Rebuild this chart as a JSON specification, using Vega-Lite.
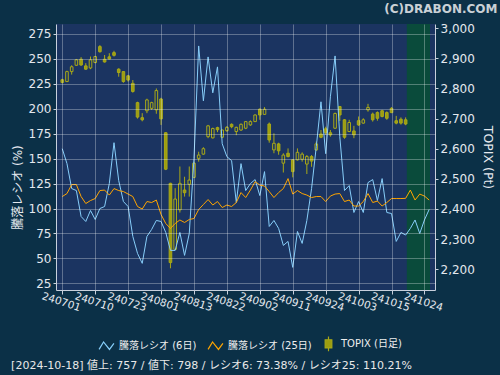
{
  "$schema": "https://vega.github.io/schema/vega-lite/v6.json",
  "width": 379,
  "height": 266,
  "autosize": {"type": "none"},
  "padding": {"left": 56, "top": 24, "right": 65, "bottom": 85},
  "background": "#0b3047",
  "config": {
    "font": "DejaVu Sans, Noto Sans CJK JP",
    "view": {"fill": "#1b3461", "stroke": null},
    "axis": {
      "labelColor": "#e4e8ee",
      "titleColor": "#e4e8ee",
      "domainColor": "#c8d0dc",
      "tickColor": "#c8d0dc",
      "gridColor": "#ffffff",
      "gridOpacity": 0.3,
      "labelFontSize": 11,
      "titleFontSize": 12,
      "titleFontWeight": "normal",
      "labelFont": "DejaVu Sans",
      "titleFont": "DejaVu Sans, Noto Sans CJK JP"
    }
  },
  "title": {
    "text": "[2024-10-18] 値上: 757 / 値下: 798 / レシオ6: 73.38% / レシオ25: 110.21%",
    "orient": "bottom",
    "anchor": "start",
    "frame": "bounds",
    "fontSize": 11,
    "fontWeight": "normal",
    "font": "DejaVu Sans, Noto Sans CJK JP",
    "color": "#e8e8e8",
    "offset": 6,
    "dx": 0
  },
  "datasets": {
    "topix": [
      {"i":0,"o":2829,"h":2832,"l":2817,"c":2820},
      {"i":1,"o":2823,"h":2859,"l":2821,"c":2856},
      {"i":2,"o":2856,"h":2877,"l":2846,"c":2872},
      {"i":3,"o":2877,"h":2898,"l":2875,"c":2895},
      {"i":4,"o":2897,"h":2904,"l":2875,"c":2878},
      {"i":5,"o":2875,"h":2884,"l":2862,"c":2864},
      {"i":6,"o":2868,"h":2906,"l":2864,"c":2895},
      {"i":7,"o":2886,"h":2908,"l":2884,"c":2906},
      {"i":8,"o":2939,"h":2944,"l":2919,"c":2922},
      {"i":9,"o":2897,"h":2911,"l":2886,"c":2888},
      {"i":10,"o":2905,"h":2917,"l":2897,"c":2898},
      {"i":11,"o":2919,"h":2925,"l":2906,"c":2910},
      {"i":12,"o":2864,"h":2867,"l":2839,"c":2853},
      {"i":13,"o":2856,"h":2858,"l":2819,"c":2823},
      {"i":14,"o":2842,"h":2845,"l":2823,"c":2828},
      {"i":15,"o":2817,"h":2828,"l":2786,"c":2790},
      {"i":16,"o":2753,"h":2756,"l":2700,"c":2705},
      {"i":17,"o":2703,"h":2718,"l":2691,"c":2696},
      {"i":18,"o":2726,"h":2766,"l":2718,"c":2762},
      {"i":19,"o":2734,"h":2756,"l":2729,"c":2753},
      {"i":20,"o":2729,"h":2800,"l":2716,"c":2793},
      {"i":21,"o":2765,"h":2769,"l":2679,"c":2699},
      {"i":22,"o":2653,"h":2655,"l":2529,"c":2532},
      {"i":23,"o":2485,"h":2487,"l":2203,"c":2222},
      {"i":24,"o":2266,"h":2469,"l":2264,"c":2433},
      {"i":25,"o":2397,"h":2541,"l":2388,"c":2485},
      {"i":26,"o":2463,"h":2507,"l":2441,"c":2454},
      {"i":27,"o":2482,"h":2541,"l":2441,"c":2496},
      {"i":28,"o":2505,"h":2555,"l":2504,"c":2552},
      {"i":29,"o":2568,"h":2590,"l":2557,"c":2579},
      {"i":30,"o":2582,"h":2605,"l":2580,"c":2600},
      {"i":31,"o":2640,"h":2679,"l":2635,"c":2676},
      {"i":32,"o":2636,"h":2670,"l":2634,"c":2667},
      {"i":33,"o":2670,"h":2673,"l":2655,"c":2663},
      {"i":34,"o":2638,"h":2664,"l":2635,"c":2662},
      {"i":35,"o":2660,"h":2675,"l":2656,"c":2671},
      {"i":36,"o":2681,"h":2684,"l":2668,"c":2673},
      {"i":37,"o":2657,"h":2673,"l":2645,"c":2671},
      {"i":38,"o":2662,"h":2684,"l":2659,"c":2681},
      {"i":39,"o":2668,"h":2692,"l":2665,"c":2690},
      {"i":40,"o":2679,"h":2694,"l":2676,"c":2690},
      {"i":41,"o":2690,"h":2714,"l":2689,"c":2712},
      {"i":42,"o":2731,"h":2734,"l":2696,"c":2712},
      {"i":43,"o":2714,"h":2738,"l":2712,"c":2731},
      {"i":44,"o":2682,"h":2687,"l":2620,"c":2629},
      {"i":45,"o":2596,"h":2651,"l":2585,"c":2618},
      {"i":46,"o":2616,"h":2620,"l":2580,"c":2593},
      {"i":47,"o":2552,"h":2585,"l":2521,"c":2579},
      {"i":48,"o":2585,"h":2601,"l":2571,"c":2574},
      {"i":49,"o":2563,"h":2565,"l":2505,"c":2524},
      {"i":50,"o":2563,"h":2601,"l":2561,"c":2588},
      {"i":51,"o":2565,"h":2588,"l":2557,"c":2582},
      {"i":52,"o":2549,"h":2579,"l":2516,"c":2574},
      {"i":53,"o":2574,"h":2579,"l":2540,"c":2559},
      {"i":54,"o":2596,"h":2624,"l":2593,"c":2616},
      {"i":55,"o":2649,"h":2662,"l":2635,"c":2638},
      {"i":56,"o":2666,"h":2673,"l":2646,"c":2653},
      {"i":57,"o":2653,"h":2662,"l":2640,"c":2646},
      {"i":58,"o":2668,"h":2720,"l":2666,"c":2717},
      {"i":59,"o":2740,"h":2742,"l":2692,"c":2712},
      {"i":60,"o":2696,"h":2698,"l":2633,"c":2638},
      {"i":61,"o":2657,"h":2696,"l":2655,"c":2687},
      {"i":62,"o":2659,"h":2676,"l":2635,"c":2646},
      {"i":63,"o":2693,"h":2707,"l":2676,"c":2679},
      {"i":64,"o":2685,"h":2701,"l":2683,"c":2696},
      {"i":65,"o":2729,"h":2749,"l":2723,"c":2737},
      {"i":66,"o":2715,"h":2720,"l":2690,"c":2696},
      {"i":67,"o":2720,"h":2724,"l":2693,"c":2701},
      {"i":68,"o":2726,"h":2729,"l":2704,"c":2707},
      {"i":69,"o":2720,"h":2724,"l":2696,"c":2701},
      {"i":70,"o":2734,"h":2738,"l":2718,"c":2720},
      {"i":71,"o":2693,"h":2709,"l":2681,"c":2685},
      {"i":72,"o":2698,"h":2704,"l":2680,"c":2685},
      {"i":73,"o":2696,"h":2704,"l":2678,"c":2682}
    ],
    "ratio": [
      {"i":0,"r6":160,"r25":112},
      {"i":1,"r6":145,"r25":115},
      {"i":2,"r6":120,"r25":124},
      {"i":3,"r6":118,"r25":124},
      {"i":4,"r6":92,"r25":112},
      {"i":5,"r6":87,"r25":105},
      {"i":6,"r6":98,"r25":108},
      {"i":7,"r6":89,"r25":110},
      {"i":8,"r6":100,"r25":118},
      {"i":9,"r6":102,"r25":118.5},
      {"i":10,"r6":125,"r25":113.5},
      {"i":11,"r6":166,"r25":120},
      {"i":12,"r6":128,"r25":118},
      {"i":13,"r6":107,"r25":117},
      {"i":14,"r6":102,"r25":114.5},
      {"i":15,"r6":72,"r25":112},
      {"i":16,"r6":55,"r25":102},
      {"i":17,"r6":45,"r25":99.5},
      {"i":18,"r6":72,"r25":107},
      {"i":19,"r6":79,"r25":106},
      {"i":20,"r6":88,"r25":108.5},
      {"i":21,"r6":87,"r25":94},
      {"i":22,"r6":76,"r25":85},
      {"i":23,"r6":58,"r25":80},
      {"i":24,"r6":58,"r25":85},
      {"i":25,"r6":76,"r25":88.5},
      {"i":26,"r6":53,"r25":86},
      {"i":27,"r6":75,"r25":89},
      {"i":28,"r6":150,"r25":90},
      {"i":29,"r6":263,"r25":99},
      {"i":30,"r6":208,"r25":104},
      {"i":31,"r6":252,"r25":109},
      {"i":32,"r6":216,"r25":103.5},
      {"i":33,"r6":242,"r25":107},
      {"i":34,"r6":165,"r25":101},
      {"i":35,"r6":152,"r25":103.5},
      {"i":36,"r6":148,"r25":102},
      {"i":37,"r6":106,"r25":106},
      {"i":38,"r6":145,"r25":116},
      {"i":39,"r6":118,"r25":111},
      {"i":40,"r6":125,"r25":118.5},
      {"i":41,"r6":129,"r25":127},
      {"i":42,"r6":113,"r25":123.5},
      {"i":43,"r6":137,"r25":122.5},
      {"i":44,"r6":82,"r25":117},
      {"i":45,"r6":88,"r25":111},
      {"i":46,"r6":80,"r25":116},
      {"i":47,"r6":63,"r25":120},
      {"i":48,"r6":67,"r25":130},
      {"i":49,"r6":41,"r25":114.5},
      {"i":50,"r6":77,"r25":118},
      {"i":51,"r6":65,"r25":115},
      {"i":52,"r6":88,"r25":113.5},
      {"i":53,"r6":120,"r25":111},
      {"i":54,"r6":162,"r25":112},
      {"i":55,"r6":207,"r25":112},
      {"i":56,"r6":155,"r25":107},
      {"i":57,"r6":212,"r25":112.5},
      {"i":58,"r6":253,"r25":114.5},
      {"i":59,"r6":172,"r25":115},
      {"i":60,"r6":118,"r25":107},
      {"i":61,"r6":123,"r25":108.5},
      {"i":62,"r6":96,"r25":102.5},
      {"i":63,"r6":107,"r25":102.5},
      {"i":64,"r6":96,"r25":107},
      {"i":65,"r6":126,"r25":115},
      {"i":66,"r6":129,"r25":106},
      {"i":67,"r6":108,"r25":107.5},
      {"i":68,"r6":130,"r25":102.5},
      {"i":69,"r6":96,"r25":106},
      {"i":70,"r6":95,"r25":110},
      {"i":71,"r6":67,"r25":110},
      {"i":72,"r6":76,"r25":110},
      {"i":73,"r6":73.4,"r25":110.2},
      {"i":74,"r6":80,"r25":118.5},
      {"i":75,"r6":88.5,"r25":108.5},
      {"i":76,"r6":75,"r25":114.5},
      {"i":77,"r6":88.5,"r25":112.5},
      {"i":78,"r6":99,"r25":108.5}
    ],
    "future": [
      {"start": 73.25, "end": 78.18}
    ]
  },
  "resolve": {"scale": {"y": "independent"}, "axis": {"x": "independent"}},
  "layer": [
    {
      "data": {"name": "future"},
      "mark": {"type": "rect", "fill": "#0a4b3b"},
      "encoding": {
        "x": {
          "field": "start",
          "type": "quantitative",
          "scale": {"domain": [-0.27, 78.18], "nice": false, "zero": false},
          "axis": {
            "orient": "top",
            "title": "(C)DRABON.COM",
            "labels": false,
            "ticks": false,
            "domain": false,
            "grid": false,
            "titleX": 441,
            "titleY": -16,
            "titleAlign": "right",
            "titleBaseline": "middle",
            "titleFontSize": 12,
            "titleFontWeight": "bold",
            "titleColor": "#c9d0d6",
            "titleFont": "DejaVu Sans"
          }
        },
        "x2": {"field": "end"}
      }
    },
    {
      "data": {"name": "topix"},
      "encoding": {
        "x": {
          "field": "i",
          "type": "quantitative",
          "scale": {"domain": [-0.27, 78.18], "nice": false, "zero": false},
          "axis": {
            "orient": "bottom",
            "values": [0, 7, 14, 21, 28, 35, 42, 49, 56, 63, 70, 77],
            "labelExpr": "['240701','240710','240723','240801','240813','240822','240902','240911','240924','241003','241015','241024'][round(datum.value / 7)]",
            "grid": true,
            "zindex": 1,
            "title": null,
            "labelAngle": 18,
            "labelAlign": "center",
            "labelBaseline": "top",
            "labelFontSize": 10.5,
            "labelPadding": 3,
            "tickSize": 4,
            "labelOverlap": false,
            "labelBound": false,
            "labelFlush": false
          }
        }
      },
      "layer": [
        {
          "mark": {"type": "rule", "strokeWidth": 1},
          "encoding": {
            "y": {
              "field": "l",
              "type": "quantitative",
              "scale": {"domain": [2131, 3014], "nice": false, "zero": false},
              "axis": {
                "orient": "right",
                "values": [2200, 2300, 2400, 2500, 2600, 2700, 2800, 2900, 3000],
                "labelExpr": "format(datum.value, ',')",
                "grid": false,
                "tickSize": 3,
                "labelPadding": 2,
                "labelFontSize": 12,
                "title": "TOPIX (Pt)",
                "titleFontSize": 12.5,
                "titlePadding": 6
              }
            },
            "y2": {"field": "h"},
            "stroke": {"datum": "TOPIX (日足)"}
          }
        },
        {
          "mark": {"type": "bar", "width": 2.6, "strokeWidth": 1},
          "encoding": {
            "y": {
              "field": "o",
              "type": "quantitative",
              "scale": {"domain": [2131, 3014], "nice": false, "zero": false},
              "axis": {
                "orient": "right",
                "values": [2200, 2300, 2400, 2500, 2600, 2700, 2800, 2900, 3000],
                "labelExpr": "format(datum.value, ',')",
                "grid": false,
                "tickSize": 3,
                "labelPadding": 2,
                "labelFontSize": 12,
                "title": "TOPIX (Pt)",
                "titleFontSize": 12.5,
                "titlePadding": 6
              }
            },
            "y2": {"field": "c"},
            "stroke": {"datum": "TOPIX (日足)"},
            "fill": {
              "condition": {"test": "datum.c > datum.o", "value": "#1b3461"},
              "value": "#9e9e10"
            }
          }
        }
      ]
    },
    {
      "data": {"name": "ratio"},
      "encoding": {
        "x": {
          "field": "i",
          "type": "quantitative",
          "scale": {"domain": [-0.27, 78.18], "nice": false, "zero": false},
          "axis": null
        }
      },
      "layer": [
        {
          "mark": {"type": "line", "strokeWidth": 1},
          "encoding": {
            "y": {
              "field": "r6",
              "type": "quantitative",
              "scale": {"domain": [18.3, 285], "nice": false, "zero": false},
              "axis": {
                "orient": "left",
                "values": [25, 50, 75, 100, 125, 150, 175, 200, 225, 250, 275],
                "grid": true,
                "zindex": 1,
                "tickSize": 3,
                "labelPadding": 2,
                "labelFontSize": 12,
                "title": "騰落レシオ (%)",
                "titleFontSize": 12,
                "titlePadding": 4,
                "titleY": 163
              }
            },
            "stroke": {
              "datum": "騰落レシオ (6日)",
              "scale": {
                "domain": ["騰落レシオ (6日)", "騰落レシオ (25日)", "TOPIX (日足)"],
                "range": ["#87cefa", "#ffa500", "#a8a818"]
              },
              "legend": {
                "orient": "none",
                "legendX": 42,
                "legendY": 311,
                "direction": "horizontal",
                "title": null,
                "symbolType": "M-1,0.5L-0.4,-0.5L0.4,0.5L1,-0.3",
                "symbolSize": 220,
                "symbolStrokeWidth": 1.2,
                "labelColor": "#eeeeee",
                "labelFontSize": 10,
                "labelFont": "DejaVu Sans, Noto Sans CJK JP",
                "labelOffset": 4,
                "columnPadding": 8,
                "encode": {
                  "symbols": {
                    "update": {
                      "shape": {"signal": "datum.value === 'TOPIX (日足)' ? 'M0,-1V-0.55M-0.45,-0.55H0.45V0.55H-0.45ZM0,0.55V1' : 'M-1,0.5L-0.4,-0.5L0.4,0.5L1,-0.3'"},
                      "fill": {"signal": "datum.value === 'TOPIX (日足)' ? '#9e9e10' : 'transparent'"}
                    }
                  }
                }
              }
            }
          }
        },
        {
          "mark": {"type": "line", "strokeWidth": 1},
          "encoding": {
            "y": {
              "field": "r25",
              "type": "quantitative",
              "scale": {"domain": [18.3, 285], "nice": false, "zero": false},
              "axis": {
                "orient": "left",
                "values": [25, 50, 75, 100, 125, 150, 175, 200, 225, 250, 275],
                "grid": true,
                "zindex": 1,
                "tickSize": 3,
                "labelPadding": 2,
                "labelFontSize": 12,
                "title": "騰落レシオ (%)",
                "titleFontSize": 12,
                "titlePadding": 4,
                "titleY": 163
              }
            },
            "stroke": {"datum": "騰落レシオ (25日)"}
          }
        }
      ]
    }
  ]
}
